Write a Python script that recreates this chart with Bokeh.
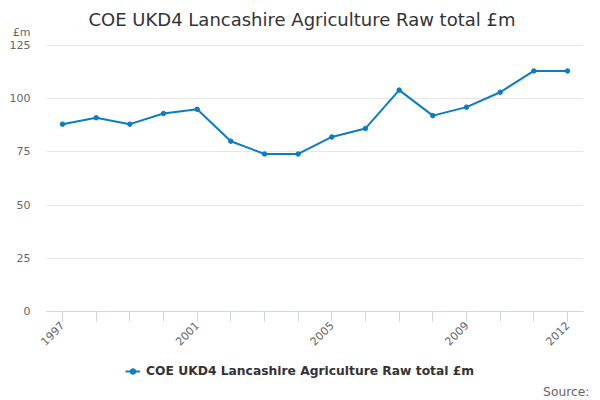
from bokeh.plotting import figure
from bokeh.layouts import column
from bokeh.models import FixedTicker, Legend, LegendItem, Range1d, Title
from bokeh.embed import file_html
from bokeh.resources import INLINE
import math

years = list(range(1997, 2013))
values = [88, 91, 88, 93, 95, 80, 74, 74, 82, 86, 104, 92, 96, 103, 113, 113]
y_ticks = [0, 25, 50, 75, 100, 125]
shown_year_labels = [1997, 2001, 2005, 2009, 2012]
series_name = "COE UKD4 Lancashire Agriculture Raw total £m"
title_text = "COE UKD4 Lancashire Agriculture Raw total £m"
unit_text = "£m"
source_text = "Source:"

FONT = "DejaVu Sans"
COLOR = "#0b7dc2"
W = 600
UNIT_POS = 131   # axis position used to place the unit caption above the top tick
Y_TOP = 132

p = figure(width=W, height=355, output_backend="svg", toolbar_location=None,
           x_range=Range1d(1996.525, 2012.475), y_range=Range1d(0, Y_TOP),
           min_border_left=46, min_border_right=17, min_border_top=30, min_border_bottom=44)
p.outline_line_color = None
p.background_fill_color = "white"
p.border_fill_color = "white"

p.title.text = title_text
p.title.align = "left"
p.title.offset = 42
p.title.text_font = FONT
p.title.text_font_size = "18px"
p.title.text_font_style = "normal"
p.title.text_color = "#333333"
p.title.standoff = 1

p.yaxis.ticker = FixedTicker(ticks=y_ticks + [UNIT_POS])
p.yaxis.major_label_overrides = {UNIT_POS: unit_text}
p.yaxis.axis_line_color = None
p.yaxis.major_tick_line_color = None
p.yaxis.minor_tick_line_color = None
p.yaxis.major_label_text_font = FONT
p.yaxis.major_label_text_font_size = "11px"
p.yaxis.major_label_text_color = "#666666"
p.yaxis.major_label_standoff = 10
p.ygrid.grid_line_color = "#e6e6e6"
p.ygrid.ticker = FixedTicker(ticks=y_ticks)

p.xaxis.ticker = FixedTicker(ticks=years)
p.xaxis.major_label_overrides = {y: (str(y) if y in shown_year_labels else "") for y in years}
p.xaxis.axis_line_color = "#ccd6eb"
p.xaxis.major_tick_line_color = "#ccd6eb"
p.xaxis.major_tick_out = 10
p.xaxis.major_tick_in = 0
p.xaxis.minor_tick_line_color = None
p.xaxis.major_label_orientation = math.pi / 4
p.xaxis.major_label_text_font = FONT
p.xaxis.major_label_text_font_size = "11px"
p.xaxis.major_label_text_color = "#666666"
p.xaxis.major_label_standoff = 2
p.xgrid.grid_line_color = None

p.line(years, values, line_color=COLOR, line_width=2)
p.scatter(years, values, size=4.5, fill_color=COLOR, line_color=COLOR)

# footer: legend and source
foot = figure(width=W, height=45, output_backend="svg", toolbar_location=None,
              x_range=Range1d(0, 1), y_range=Range1d(0, 1),
              x_axis_type=None, y_axis_type=None,
              min_border_left=0, min_border_right=0, min_border_top=0, min_border_bottom=17)
foot.outline_line_color = None
foot.grid.visible = False
foot.border_fill_color = "white"
foot.background_fill_color = "white"
kl = foot.line(years, values, line_color=COLOR, line_width=2, visible=False)
ks = foot.scatter(years, values, size=4.5, fill_color=COLOR, line_color=COLOR, visible=False)
legend = Legend(items=[LegendItem(label=series_name, renderers=[kl, ks])],
                location=(79, 3), orientation="horizontal",
                padding=0, margin=0, spacing=0,
                glyph_width=15, glyph_height=14, label_standoff=6,
                label_text_font=FONT, label_text_font_size="12.3px",
                label_text_font_style="bold", label_text_color="#333333",
                border_line_color=None, background_fill_alpha=0)
foot.add_layout(legend, "center")
src = Title(text=source_text, align="right", offset=-6, standoff=3,
            text_font=FONT, text_font_size="12.3px", text_font_style="normal",
            text_color="#666666")
foot.add_layout(src, "below")

layout = column(p, foot, spacing=0)
open("out.html", "w").write(file_html(layout, INLINE))
